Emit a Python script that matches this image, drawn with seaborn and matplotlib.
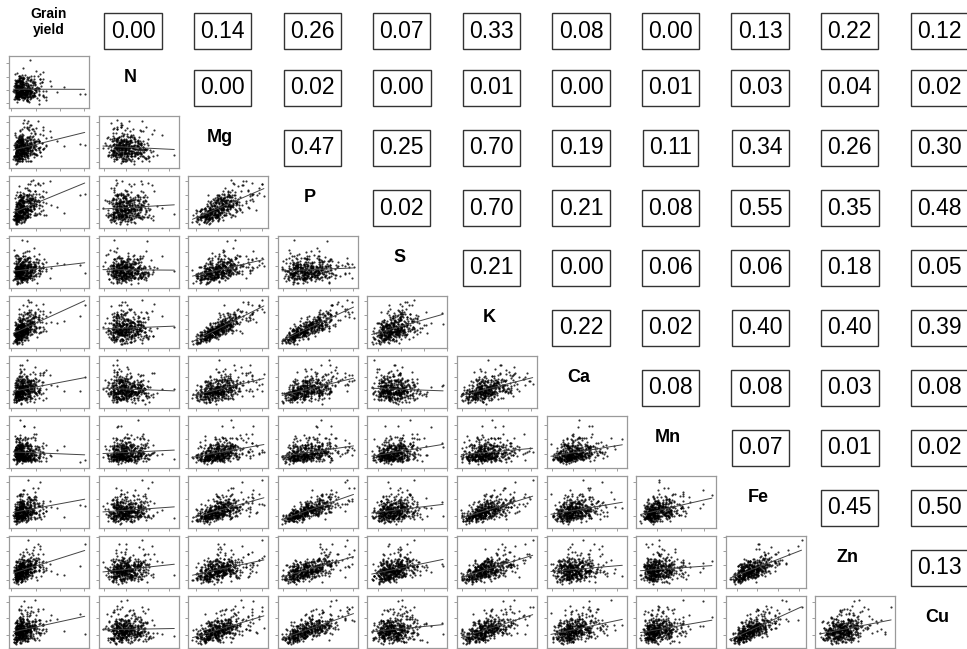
import numpy as np
import pandas as pd
import matplotlib
matplotlib.use("Agg")
import matplotlib.pyplot as plt
import seaborn as sns

sns.set_style("white")
plt.rcParams["font.family"] = ["Liberation Sans", "DejaVu Sans"]
plt.rcParams["text.color"] = "black"

# ---- data -----------------------------------------------------------------
variables = ["Grain\nyield", "N", "Mg", "P", "S", "K", "Ca", "Mn", "Fe", "Zn", "Cu"]

# upper-triangle r² values, row by row (row i lists columns i+1 .. 10)
r2_grain = [0.00, 0.14, 0.26, 0.07, 0.33, 0.08, 0.00, 0.13, 0.22, 0.12]
r2_n     = [0.00, 0.02, 0.00, 0.01, 0.00, 0.01, 0.03, 0.04, 0.02]
r2_mg    = [0.47, 0.25, 0.70, 0.19, 0.11, 0.34, 0.26, 0.30]
r2_p     = [0.02, 0.70, 0.21, 0.08, 0.55, 0.35, 0.48]
r2_s     = [0.21, 0.00, 0.06, 0.06, 0.18, 0.05]
r2_k     = [0.22, 0.02, 0.40, 0.40, 0.39]
r2_ca    = [0.08, 0.08, 0.03, 0.08]
r2_mn    = [0.07, 0.01, 0.02]
r2_fe    = [0.45, 0.50]
r2_zn    = [0.13]
r2_rows = [r2_grain, r2_n, r2_mg, r2_p, r2_s, r2_k, r2_ca, r2_mn, r2_fe, r2_zn]

# skewness of each variable's cloud (grain yield is right-skewed)
skew = [0.6, 0.25, 0.3, 0.3, 0.3, 0.3, 0.25, 0.4, 0.3, 0.3, 0.35]

# ---- sample cloud: individual points cannot be read from the picture, so a
# seeded sample is simulated whose correlations follow the printed r² values
nv = len(variables)
R = np.eye(nv)
for i, row in enumerate(r2_rows):
    for k, v in enumerate(row):
        j = i + 1 + k
        R[i, j] = R[j, i] = np.sqrt(v)
w, V = np.linalg.eigh(R)
w = np.clip(w, 0.03, None)
R = V @ np.diag(w) @ V.T
d = np.sqrt(np.diag(R))
R = R / np.outer(d, d)
rng = np.random.default_rng(7)
n_samples = 420
Z = rng.multivariate_normal(np.zeros(nv), R, size=n_samples)
Z = np.clip(Z, -3.0, 3.0)
X = np.exp(Z * np.array(skew))
df = pd.DataFrame(X, columns=[v.replace("\n", " ") for v in variables])
cols = list(df.columns)

# ---- layout ---------------------------------------------------------------
W, H = 967, 649
fig = plt.figure(figsize=(W / 100, H / 100), dpi=100)
pw, ph = 80, 52
x0, dx = 49, 89.6
y0, dy = 22, 60

for i in range(nv):
    for j in range(nv):
        cx = x0 + dx * j
        cy = y0 + dy * i
        if i < j:
            cy += 9 if i == 0 else 6
        ax = fig.add_axes([(cx - pw / 2) / W, 1 - (cy + ph / 2) / H, pw / W, ph / H])
        if i > j:
            sns.regplot(x=df[cols[j]], y=df[cols[i]], ax=ax, ci=None,
                        scatter_kws=dict(s=2.4, color="black", linewidths=0),
                        line_kws=dict(color="#444444", lw=0.7))
            ax.set_xlabel("")
            ax.set_ylabel("")
            ax.margins(x=0.06, y=0.1)
            ax.xaxis.set_major_locator(plt.MaxNLocator(4))
            ax.yaxis.set_major_locator(plt.MaxNLocator(4))
            ax.set_xticklabels([])
            ax.set_yticklabels([])
            ax.tick_params(axis="both", length=2, width=0.5, color="#777777",
                           direction="out", bottom=True, left=True)
            for s in ax.spines.values():
                s.set_color("#9a9a9a")
                s.set_linewidth(0.9)
        else:
            ax.set_axis_off()
            if i == j:
                if i == 0:
                    ax.text(0.5, 0.5, variables[i], ha="center", va="center",
                            fontsize=10, fontweight="bold", linespacing=1.15,
                            transform=ax.transAxes)
                else:
                    ax.text(0.4, 0.58, variables[i], ha="center", va="center",
                            fontsize=13, fontweight="bold",
                            transform=ax.transAxes)
            else:
                val = r2_rows[i][j - i - 1]
                ax.text(0.43, 0.5, f"{val:.2f}", ha="center", va="center",
                        fontsize=16.5, transform=ax.transAxes,
                        bbox=dict(boxstyle="square,pad=0.28", fc="white",
                                  ec="#333333", lw=1.0))

fig.savefig("out.png", dpi=100)
